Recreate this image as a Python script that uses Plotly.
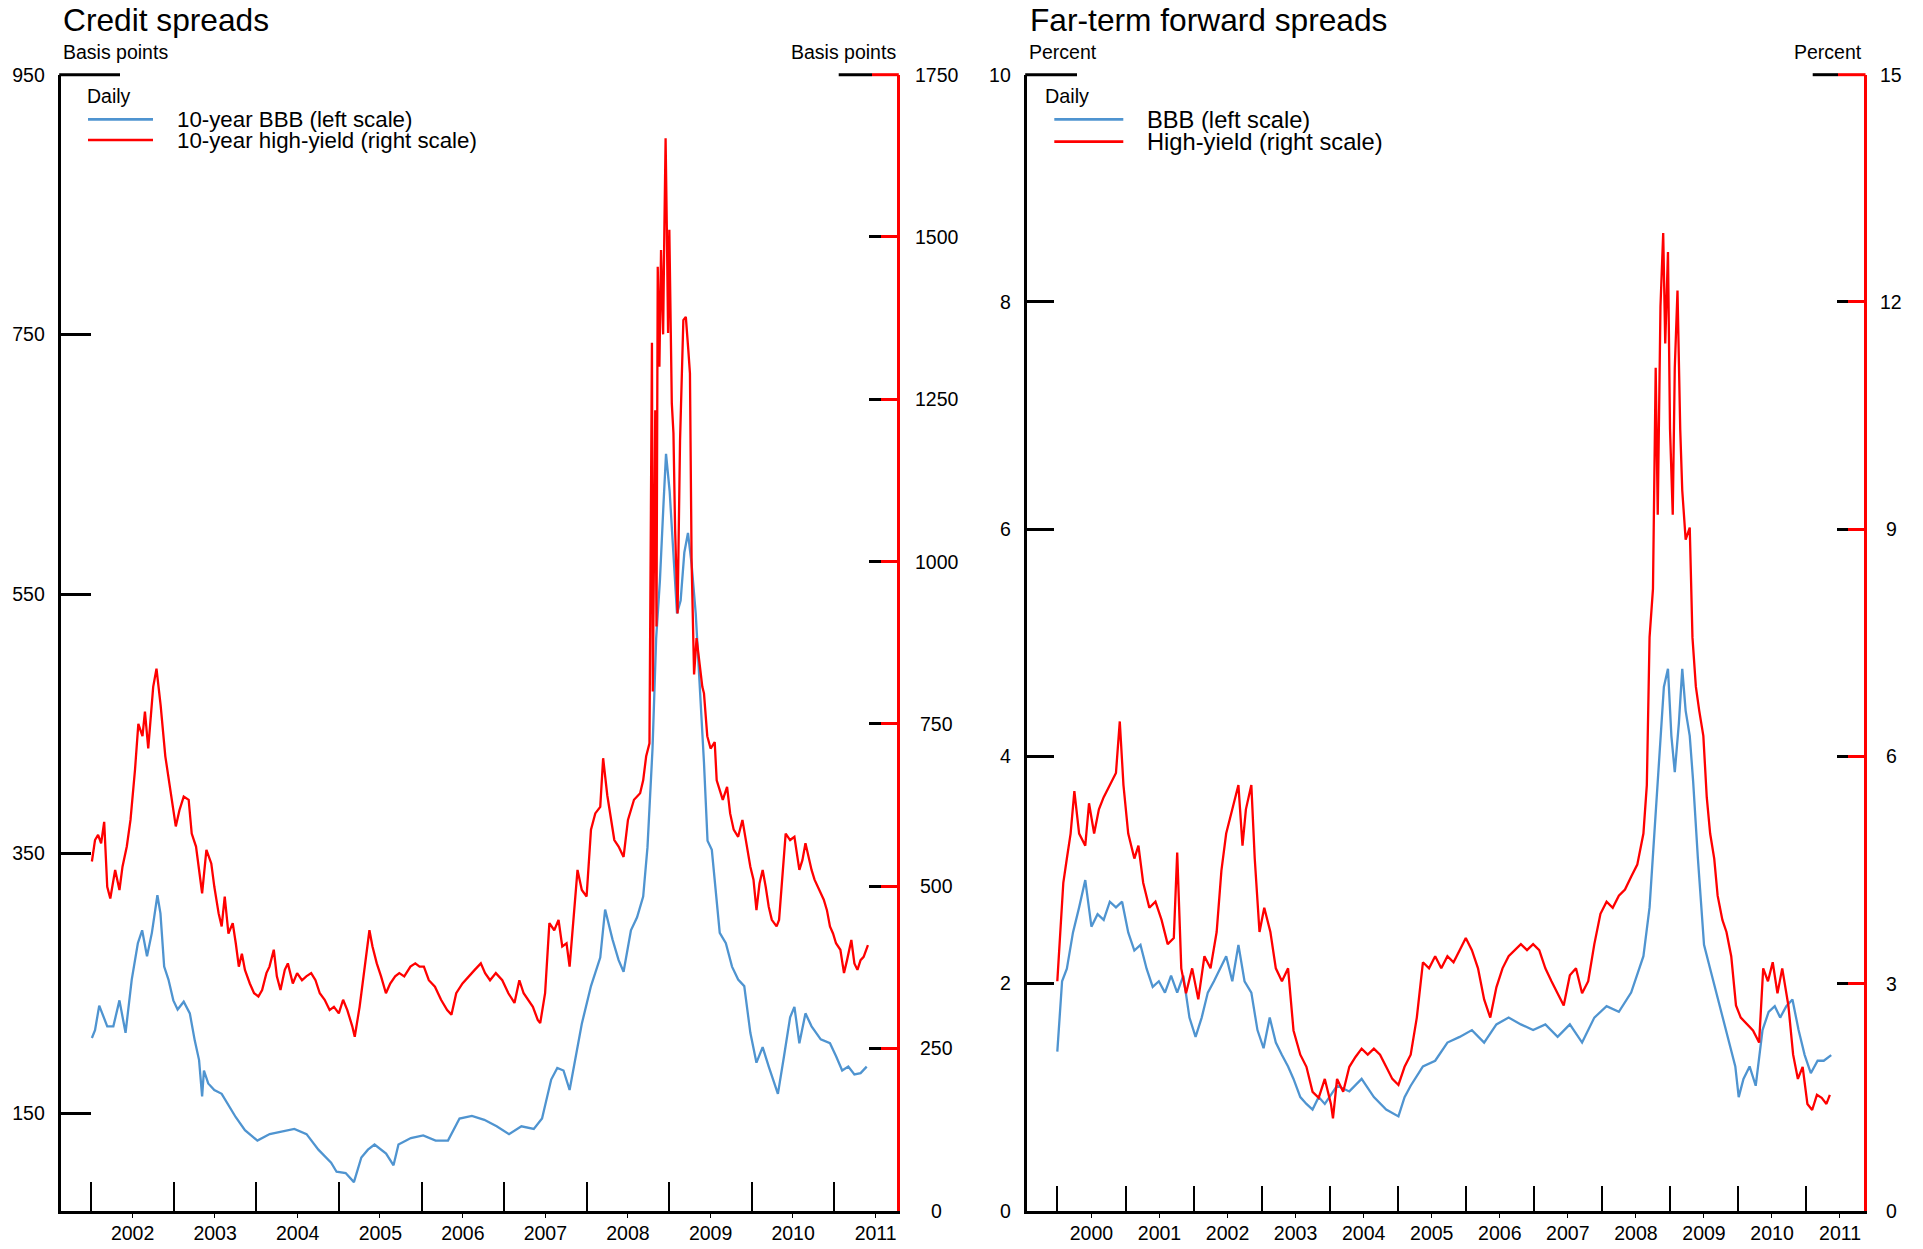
import plotly.graph_objects as go
import pandas as pd

W, H = 1923, 1249
FONT = "Liberation Sans, Arial, sans-serif"
BLUE = "#4F94D0"
RED = "#FF0000"
LW = 2.3

# ---------------- Left panel: Credit spreads (basis points) ----------------
bbb10_t = [2002.007, 2002.045, 2002.096, 2002.193, 2002.267, 2002.341, 2002.415, 2002.49, 2002.564, 2002.616,
           2002.675, 2002.734, 2002.801, 2002.838, 2002.883, 2002.935, 2002.994, 2003.046, 2003.12, 2003.194,
           2003.254, 2003.306, 2003.343, 2003.365, 2003.417, 2003.491, 2003.58, 2003.677, 2003.751, 2003.862,
           2004.013, 2004.162, 2004.31, 2004.459, 2004.607, 2004.75, 2004.904, 2004.97, 2005.08, 2005.18,
           2005.27, 2005.35, 2005.43, 2005.57, 2005.66, 2005.72, 2005.87, 2006.02, 2006.17, 2006.32,
           2006.46, 2006.61, 2006.76, 2006.91, 2007.06, 2007.21, 2007.36, 2007.46, 2007.571, 2007.645,
           2007.72, 2007.794, 2007.942, 2008.053, 2008.165, 2008.224, 2008.313, 2008.387, 2008.447, 2008.536,
           2008.61, 2008.684, 2008.736, 2008.797, 2008.841, 2008.886, 2008.93, 2008.96, 2009.004, 2009.048,
           2009.093, 2009.137, 2009.182, 2009.226, 2009.27, 2009.32, 2009.37, 2009.42, 2009.463, 2009.515,
           2009.611, 2009.685, 2009.76, 2009.834, 2009.908, 2009.982, 2010.056, 2010.131, 2010.205, 2010.279,
           2010.316, 2010.39, 2010.464, 2010.516, 2010.576, 2010.65, 2010.724, 2010.835, 2010.947, 2011.021,
           2011.095, 2011.169, 2011.243, 2011.318, 2011.392]
bbb10_v = [208, 214, 233, 217, 217, 237, 212, 253, 281, 291,
           271, 289, 318, 304, 263, 253, 237, 230, 236, 227,
           206, 191, 163, 183, 173, 168, 165, 155, 147, 137,
           129, 134, 136, 138, 134, 122, 112, 105, 104, 97,
           116, 122, 126, 119, 110, 126, 131, 133, 129, 129,
           146, 148, 145, 140, 134, 140, 138, 146, 176, 185,
           183, 168, 219, 248, 270, 307, 284, 268, 259, 291,
           301, 317, 355, 431, 516, 560, 620, 658, 629, 582,
           535, 545, 582, 597, 573, 535, 480, 420, 360, 353,
           289, 281, 263, 253, 248, 212, 189, 201, 186, 171,
           165, 194, 224, 232, 204, 227, 217, 207, 204, 194,
           183, 186, 180, 181, 186]

hy10_t = [2002.007, 2002.045, 2002.082, 2002.119, 2002.156, 2002.193, 2002.23, 2002.289, 2002.341, 2002.378,
          2002.43, 2002.475, 2002.53, 2002.57, 2002.62, 2002.65, 2002.69, 2002.75, 2002.79, 2002.84,
          2002.897, 2002.97, 2003.024, 2003.068, 2003.12, 2003.18, 2003.217, 2003.269, 2003.306, 2003.343,
          2003.395, 2003.454, 2003.491, 2003.543, 2003.58, 2003.617, 2003.662, 2003.714, 2003.751, 2003.788,
          2003.825, 2003.862, 2003.921, 2003.973, 2004.025, 2004.07, 2004.122, 2004.159, 2004.211, 2004.248,
          2004.292, 2004.344, 2004.381, 2004.441, 2004.493, 2004.552, 2004.604, 2004.663, 2004.715, 2004.767,
          2004.826, 2004.886, 2004.938, 2004.997, 2005.049, 2005.1, 2005.16, 2005.19, 2005.249, 2005.309,
          2005.368, 2005.405, 2005.457, 2005.509, 2005.568, 2005.62, 2005.68, 2005.73, 2005.79, 2005.865,
          2005.924, 2005.976, 2006.028, 2006.088, 2006.162, 2006.236, 2006.31, 2006.362, 2006.42, 2006.496,
          2006.57, 2006.644, 2006.718, 2006.77, 2006.83, 2006.9, 2006.978, 2007.052, 2007.126, 2007.185,
          2007.237, 2007.289, 2007.349, 2007.408, 2007.438, 2007.497, 2007.549, 2007.608, 2007.66, 2007.705,
          2007.757, 2007.794, 2007.846, 2007.89, 2007.942, 2008.0, 2008.053, 2008.105, 2008.165, 2008.2,
          2008.25, 2008.335, 2008.387, 2008.447, 2008.5, 2008.573, 2008.647, 2008.684, 2008.72, 2008.76,
          2008.79, 2008.80, 2008.83, 2008.845, 2008.86, 2008.88, 2008.90, 2008.925, 2008.94, 2008.955,
          2008.97, 2008.985, 2009.0, 2009.01, 2009.03, 2009.05, 2009.07, 2009.10, 2009.13, 2009.17,
          2009.20, 2009.23, 2009.25, 2009.27, 2009.30, 2009.33, 2009.37, 2009.40, 2009.42, 2009.46,
          2009.50, 2009.55, 2009.574, 2009.611, 2009.648, 2009.7, 2009.737, 2009.78, 2009.834, 2009.886,
          2009.93, 2009.982, 2010.02, 2010.056, 2010.093, 2010.131, 2010.168, 2010.205, 2010.242, 2010.3,
          2010.33, 2010.375, 2010.41, 2010.464, 2010.516, 2010.576, 2010.613, 2010.65, 2010.687, 2010.724,
          2010.76, 2010.82, 2010.872, 2010.91, 2010.947, 2010.984, 2011.02, 2011.073, 2011.117, 2011.154,
          2011.206, 2011.243, 2011.28, 2011.318, 2011.355, 2011.407]
hy10_v = [538, 571, 579, 566, 599, 499, 481, 525, 494, 530,
          561, 602, 680, 750, 731, 769, 712, 807, 835, 779,
          700, 638, 592, 617, 638, 633, 581, 561, 520, 489,
          556, 535, 499, 458, 438, 484, 427, 443, 412, 376,
          396, 371, 350, 335, 330, 340, 366, 376, 402, 361,
          340, 371, 381, 350, 366, 355, 361, 366, 355, 335,
          325, 309, 314, 304, 325, 309, 284, 268, 314, 376,
          432, 407, 381, 361, 335, 350, 361, 366, 361, 376,
          381, 376, 376, 355, 345, 325, 309, 302, 335, 350,
          361, 371, 381, 366, 355, 366, 355, 335, 320, 355,
          335, 325, 314, 294, 289, 335, 443, 432, 448, 407,
          412, 376, 458, 525, 494, 484, 587, 612, 622, 697,
          640, 571, 561, 545, 602, 633, 643, 663, 700, 720,
          1337, 800, 1233, 900, 1454, 1300, 1480, 1350, 1511, 1652,
          1511, 1352, 1511, 1387, 1244, 1198, 1050, 920, 1187, 1372,
          1377, 1326, 1290, 1000, 826, 882, 835, 807, 797, 731,
          712, 722, 663, 648, 633, 653, 612, 587, 576, 602,
          571, 530, 510, 463, 504, 525, 499, 468, 448, 438,
          448, 530, 581, 571, 576, 525, 540, 566, 545, 525,
          510, 494, 479, 463, 438, 427, 412, 402, 366, 386,
          417, 381, 371, 386, 391, 409]

# ---------------- Right panel: Far-term forward spreads (percent) ----------------
bbbfwd_t = [2000.0, 2000.034, 2000.07, 2000.14, 2000.23, 2000.32, 2000.41, 2000.5, 2000.59, 2000.68,
            2000.77, 2000.86, 2000.95, 2001.04, 2001.13, 2001.22, 2001.31, 2001.4, 2001.49, 2001.58,
            2001.67, 2001.76, 2001.85, 2001.94, 2002.03, 2002.12, 2002.21, 2002.3, 2002.39, 2002.48,
            2002.57, 2002.66, 2002.75, 2002.85, 2002.94, 2003.03, 2003.12, 2003.21, 2003.3, 2003.39,
            2003.47, 2003.57, 2003.66, 2003.75, 2003.84, 2003.93, 2004.02, 2004.11, 2004.29, 2004.47,
            2004.65, 2004.83, 2005.01, 2005.1, 2005.19, 2005.37, 2005.55, 2005.73, 2005.91, 2006.09,
            2006.27, 2006.45, 2006.63, 2006.81, 2006.99, 2007.17, 2007.35, 2007.53, 2007.71, 2007.89,
            2008.07, 2008.25, 2008.43, 2008.61, 2008.7, 2008.79, 2008.84, 2008.91, 2008.97, 2009.02,
            2009.07, 2009.13, 2009.18, 2009.23, 2009.29, 2009.34, 2009.41, 2009.5, 2009.59, 2009.68,
            2009.77, 2009.87, 2009.96, 2010.01, 2010.08, 2010.17, 2010.26, 2010.36, 2010.45, 2010.54,
            2010.62, 2010.71, 2010.8, 2010.89, 2010.98, 2011.07, 2011.17, 2011.26, 2011.37]
bbbfwd_v = [1.40, 1.70, 2.02, 2.13, 2.45, 2.67, 2.91, 2.50, 2.61, 2.56,
            2.72, 2.67, 2.72, 2.45, 2.29, 2.34, 2.13, 1.97, 2.02, 1.92,
            2.07, 1.92, 2.07, 1.70, 1.53, 1.70, 1.92, 2.02, 2.13, 2.24,
            2.02, 2.34, 2.02, 1.92, 1.59, 1.43, 1.70, 1.48, 1.37, 1.27,
            1.16, 1.00, 0.94, 0.89, 1.00, 0.94, 1.02, 1.10, 1.05, 1.16,
            1.00, 0.89, 0.83, 1.00, 1.10, 1.27, 1.32, 1.48, 1.53, 1.59,
            1.48, 1.64, 1.70, 1.64, 1.59, 1.64, 1.53, 1.64, 1.48, 1.70,
            1.80, 1.75, 1.92, 2.24, 2.67, 3.53, 3.96, 4.61, 4.77, 4.18,
            3.86, 4.29, 4.77, 4.40, 4.18, 3.78, 3.10, 2.34, 2.13, 1.92,
            1.70, 1.48, 1.27, 1.00, 1.16, 1.27, 1.10, 1.59, 1.75, 1.80,
            1.70, 1.80, 1.86, 1.59, 1.37, 1.21, 1.32, 1.32, 1.37]

hyfwd_t = [2000.0, 2000.034, 2000.088, 2000.14, 2000.195, 2000.25, 2000.32, 2000.41, 2000.465, 2000.54,
           2000.61, 2000.68, 2000.77, 2000.86, 2000.916, 2000.97, 2001.04, 2001.13, 2001.19, 2001.26,
           2001.35, 2001.44, 2001.53, 2001.62, 2001.71, 2001.76, 2001.82, 2001.89, 2001.98, 2002.07,
           2002.16, 2002.25, 2002.34, 2002.41, 2002.48, 2002.57, 2002.66, 2002.72, 2002.77, 2002.85,
           2002.9, 2002.97, 2003.04, 2003.13, 2003.21, 2003.3, 2003.39, 2003.47, 2003.57, 2003.66,
           2003.75, 2003.84, 2003.93, 2004.02, 2004.05, 2004.11, 2004.2, 2004.29, 2004.38, 2004.47,
           2004.56, 2004.65, 2004.74, 2004.83, 2004.92, 2005.01, 2005.1, 2005.19, 2005.28, 2005.37,
           2005.46, 2005.55, 2005.64, 2005.73, 2005.82, 2005.91, 2006.0, 2006.09, 2006.18, 2006.27,
           2006.36, 2006.45, 2006.54, 2006.63, 2006.72, 2006.81, 2006.9, 2006.99, 2007.08, 2007.17,
           2007.26, 2007.35, 2007.44, 2007.53, 2007.62, 2007.71, 2007.8, 2007.89, 2007.98, 2008.07,
           2008.16, 2008.25, 2008.34, 2008.43, 2008.52, 2008.61, 2008.66, 2008.7, 2008.75, 2008.79,
           2008.82, 2008.86, 2008.9, 2008.93, 2008.97, 2009.0, 2009.04, 2009.07, 2009.11, 2009.15,
           2009.18, 2009.23, 2009.29, 2009.33, 2009.38, 2009.43, 2009.49, 2009.54, 2009.59, 2009.65,
           2009.7, 2009.77, 2009.83, 2009.9, 2009.97, 2010.04, 2010.13, 2010.22, 2010.31, 2010.37,
           2010.44, 2010.51, 2010.58, 2010.65, 2010.74, 2010.81, 2010.88, 2010.95, 2011.02, 2011.09,
           2011.16, 2011.23, 2011.3, 2011.35]
hyfwd_v = [3.03, 3.52, 4.33, 4.65, 4.98, 5.54, 4.98, 4.82, 5.38, 4.98,
           5.30, 5.46, 5.62, 5.78, 6.46, 5.62, 4.98, 4.65, 4.82, 4.33,
           4.00, 4.08, 3.84, 3.52, 3.60, 4.73, 3.20, 2.87, 3.20, 2.79,
           3.36, 3.20, 3.68, 4.49, 4.98, 5.30, 5.62, 4.82, 5.30, 5.62,
           4.65, 3.68, 4.00, 3.68, 3.20, 3.03, 3.20, 2.38, 2.06, 1.90,
           1.57, 1.49, 1.74, 1.41, 1.22, 1.74, 1.57, 1.90, 2.03, 2.14,
           2.06, 2.14, 2.06, 1.90, 1.74, 1.66, 1.90, 2.06, 2.55, 3.28,
           3.20, 3.36, 3.20, 3.36, 3.28, 3.44, 3.60, 3.44, 3.20, 2.79,
           2.55, 2.95, 3.20, 3.36, 3.44, 3.52, 3.44, 3.52, 3.44, 3.20,
           3.03, 2.87, 2.71, 3.11, 3.20, 2.87, 3.03, 3.52, 3.92, 4.08,
           4.00, 4.16, 4.24, 4.41, 4.57, 4.98, 5.62, 7.57, 8.21, 11.13,
           9.19, 11.94, 12.91, 11.45, 12.66, 10.32, 9.19, 11.13, 12.15, 10.32,
           9.51, 8.86, 9.02, 7.57, 6.92, 6.60, 6.27, 5.46, 4.98, 4.65,
           4.16, 3.84, 3.68, 3.36, 2.71, 2.55, 2.47, 2.38, 2.22, 3.20,
           3.03, 3.28, 2.87, 3.20, 2.71, 2.06, 1.74, 1.90, 1.41, 1.33,
           1.53, 1.49, 1.41, 1.53]

left_ticks_cs = [150, 350, 550, 750, 950]
right_ticks_cs = [0, 250, 500, 750, 1000, 1250, 1500, 1750]
left_ticks_fw = [0, 2, 4, 6, 8, 10]
right_ticks_fw = [0, 3, 6, 9, 12, 15]


def to_date(t):
    y = int(t)
    s = pd.Timestamp(year=y, month=1, day=1)
    e = pd.Timestamp(year=y + 1, month=1, day=1)
    return s + (e - s) * (t - y)


def dates(ts):
    return [to_date(t) for t in ts]


def px(x):
    return x / W


def py(y):
    return 1 - y / H


# plot-area geometry (pixels)
L1, R1 = 60.7, 897.3
L2, R2 = 1026.7, 1864.0
TOP, BOT = 74.7, 1210.7

fig = go.Figure()
fig.add_trace(go.Scatter(x=dates(bbb10_t), y=bbb10_v, mode="lines", name="10-year BBB (left scale)",
                         line=dict(color=BLUE, width=LW), xaxis="x", yaxis="y"))
fig.add_trace(go.Scatter(x=[], y=[], mode="lines", showlegend=False, hoverinfo="skip", xaxis="x", yaxis="y2"))
fig.add_trace(go.Scatter(x=dates(hy10_t), y=hy10_v, mode="lines", name="10-year high-yield (right scale)",
                         line=dict(color=RED, width=LW), xaxis="x", yaxis="y3"))
fig.add_trace(go.Scatter(x=dates(bbbfwd_t), y=bbbfwd_v, mode="lines", name="BBB (left scale)",
                         line=dict(color=BLUE, width=LW), xaxis="x2", yaxis="y4"))
fig.add_trace(go.Scatter(x=[], y=[], mode="lines", showlegend=False, hoverinfo="skip", xaxis="x2", yaxis="y5"))
fig.add_trace(go.Scatter(x=dates(hyfwd_t), y=hyfwd_v, mode="lines", name="High-yield (right scale)",
                         line=dict(color=RED, width=LW), xaxis="x2", yaxis="y6"))

tickfont = dict(family=FONT, size=19.5, color="black")


def xaxis_cfg(domain, r0, r1, anchor, ticklen):
    return dict(domain=domain, type="date", range=[to_date(r0), to_date(r1)], anchor=anchor,
                automargin=False,
                showline=True, linecolor="black", linewidth=3, showgrid=False, zeroline=False,
                ticks="inside", ticklen=ticklen, tickwidth=2, tickcolor="black",
                tick0="2000-01-01", dtick="M12", ticklabelmode="period", tickformat="%Y",
                tickfont=tickfont, ticklabelstandoff=3,
                minor=dict(ticks="outside", ticklen=4, tickwidth=1, tickcolor="black",
                           tick0="2000-07-01", dtick="M12", showgrid=False))


def yaxis_cfg(**kw):
    base = dict(domain=[py(BOT), py(TOP)], automargin=False, showgrid=False, zeroline=False,
                tickwidth=2.5, tickfont=tickfont)
    base.update(kw)
    return base


fig.update_layout(
    template="none",
    width=W, height=H, margin=dict(l=0, r=0, t=0, b=0, pad=0, autoexpand=False),
    paper_bgcolor="white", plot_bgcolor="white", showlegend=False,
    font=dict(family=FONT, color="black"),
    xaxis=xaxis_cfg([px(L1), px(R1)], 2001.629, 2011.763, "y", 29),
    xaxis2=xaxis_cfg([px(L2), px(R2)], 1999.55, 2011.852, "y4", 25),
    yaxis=yaxis_cfg(range=[75, 950], tickvals=left_ticks_cs, anchor="x", side="left",
                    showline=True, linecolor="black", linewidth=3,
                    ticks="inside", ticklen=30, tickcolor="black", ticklabelstandoff=9),
    yaxis2=yaxis_cfg(range=[0, 1750], tickvals=right_ticks_cs, anchor="x", overlaying="y", side="right",
                     showline=False, showticklabels=False, ticks="inside", ticklen=28, tickcolor="black"),
    yaxis3=yaxis_cfg(range=[0, 1750], tickvals=right_ticks_cs, anchor="x", overlaying="y", side="right",
                     showline=True, linecolor=RED, linewidth=3, showticklabels=False,
                     ticks="inside", ticklen=16, tickcolor=RED),
    yaxis4=yaxis_cfg(range=[0, 10], tickvals=left_ticks_fw, anchor="x2", side="left",
                     showline=True, linecolor="black", linewidth=3,
                     ticks="inside", ticklen=27, tickcolor="black", ticklabelstandoff=9),
    yaxis5=yaxis_cfg(range=[0, 15], tickvals=right_ticks_fw, anchor="x2", overlaying="y4", side="right",
                     showline=False, showticklabels=False, ticks="inside", ticklen=27, tickcolor="black"),
    yaxis6=yaxis_cfg(range=[0, 15], tickvals=right_ticks_fw, anchor="x2", overlaying="y4", side="right",
                     showline=True, linecolor=RED, linewidth=3, showticklabels=False,
                     ticks="inside", ticklen=16, tickcolor=RED),
)

ann = []


def text(x, y, s, size, xanchor="left", xref="paper", yref="paper"):
    ann.append(dict(x=x, y=y, xref=xref, yref=yref, text=s, showarrow=False, xanchor=xanchor,
                    yanchor="middle", font=dict(family=FONT, size=size, color="black")))


# titles and units
text(px(61), py(20.2), "Credit spreads", 31.7)
text(px(1028), py(20.2), "Far-term forward spreads", 31.7)
text(px(61), py(52), "Basis points", 19.5)
text(px(R1 + 0.5), py(52), "Basis points", 19.5, xanchor="right")
text(px(1027), py(52), "Percent", 19.5)
text(px(R2), py(52), "Percent", 19.5, xanchor="right")

# right-side tick labels (centred, as in the original)
for v in right_ticks_cs:
    text(px(936.5), v, str(v), 19.5, xanchor="center", yref="y3")
for v in right_ticks_fw:
    text(px(1891), v, str(v), 19.5, xanchor="center", yref="y6")

# legends
text(px(85), py(95.7), "Daily", 19.5)
text(px(175), py(119.5), "10-year BBB (left scale)", 22.3)
text(px(175), py(140.3), "10-year high-yield (right scale)", 22.3)
text(px(1042.7), py(95.7), "Daily", 19.8)
text(px(1145), py(120), "BBB (left scale)", 23.7)
text(px(1145), py(141.7), "High-yield (right scale)", 23.7)
fig.update_layout(annotations=ann)

shapes = []


def hline(x0, x1, y, color, width=3):
    shapes.append(dict(type="line", xref="paper", yref="paper", x0=px(x0), x1=px(x1), y0=py(y), y1=py(y),
                       line=dict(color=color, width=width), layer="above"))


# top caps of the axes
hline(L1 - 1.5, 120, TOP, "black")
hline(838.7, 872, TOP, "black")
hline(872, R1 + 1.5, TOP, RED)
hline(L2 - 1.5, 1077, TOP, "black")
hline(1812.7, 1838, TOP, "black")
hline(1838, R2 + 1.5, TOP, RED)
# legend keys
hline(88, 153, 119.3, BLUE, 2.7)
hline(88, 153, 140, RED, 2.7)
hline(1054.3, 1123.3, 119.3, BLUE, 2.7)
hline(1054.3, 1123.3, 141.7, RED, 2.7)
fig.update_layout(shapes=shapes)

fig.write_html("out.html", config={"displayModeBar": False},
               post_script="document.body.style.margin='0';document.body.style.overflow='hidden';")
